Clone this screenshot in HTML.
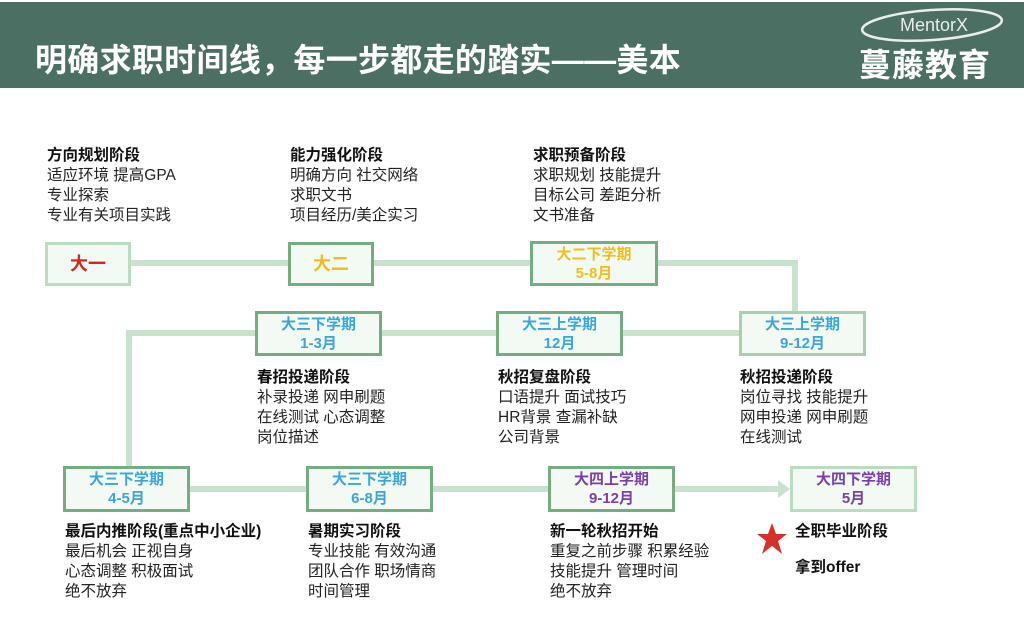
<!DOCTYPE html>
<html><head><meta charset="utf-8"><style>
body{margin:0;width:1024px;height:621px;background:#fff;position:relative;overflow:hidden;font-family:"Liberation Sans","Noto Sans CJK SC",sans-serif;}
.a{position:absolute;}
.hdr{left:0;top:2px;width:1024px;height:86px;background:#4b6f63;}
.title{left:35px;top:35px;font-size:32px;font-weight:bold;color:#fff;letter-spacing:0.3px;white-space:nowrap;}
.ln{position:absolute;background:#c8e2cc;}
.box{position:absolute;box-sizing:border-box;border:3px solid #74ad80;background:#f3f9f3;text-align:center;font-weight:bold;font-size:15px;line-height:19px;display:flex;flex-direction:column;justify-content:center;}
.t{position:absolute;font-size:15.5px;line-height:20px;color:#222;white-space:nowrap;}
.t b{color:#111;}
.blue{color:#3aa6dc}.pur{color:#7a3fb0}
</style></head><body>
<div class="a hdr"></div>
<div class="a title">明确求职时间线，每一步都走的踏实——美本</div>
<svg class="a" style="left:852px;top:5px" width="170" height="42"><ellipse cx="80" cy="20" rx="70" ry="15" fill="none" stroke="#e8eee9" stroke-width="2.5" transform="rotate(-4 80 20)"/><text x="82" y="26" text-anchor="middle" font-family="Liberation Sans" font-size="18" fill="#e8eee9">MentorX</text></svg>
<div class="a" style="left:859px;top:46px;font-size:32px;line-height:38px;color:#fff;font-weight:bold;letter-spacing:1px;white-space:nowrap">蔓藤教育</div>

<!-- lines -->
<div class="ln" style="left:130px;top:260px;width:668px;height:6px"></div>
<div class="ln" style="left:792px;top:262px;width:6px;height:52px"></div>
<div class="ln" style="left:126px;top:330px;width:620px;height:6px"></div>
<div class="ln" style="left:126px;top:330px;width:6px;height:140px"></div>
<div class="ln" style="left:190px;top:486px;width:592px;height:6px"></div>
<svg class="a" style="left:778px;top:480px" width="14" height="18"><polygon points="0,0 12,9 0,18" fill="#c8e2cc"/></svg>

<!-- row1 -->
<div class="box" style="left:45px;top:242px;width:86px;height:44px;color:#d42a1e;font-size:18px;border-color:#bcdcc0">大一</div>
<div class="box" style="left:288px;top:242px;width:86px;height:44px;color:#f0bf1e;font-size:18px">大二</div>
<div class="box" style="left:530px;top:241px;width:128px;height:45px;color:#f0bf1e">大二下学期<br>5-8月</div>
<!-- row2 -->
<div class="box blue" style="left:255px;top:311px;width:127px;height:45px">大三下学期<br>1-3月</div>
<div class="box blue" style="left:496px;top:311px;width:127px;height:45px">大三上学期<br>12月</div>
<div class="box blue" style="left:739px;top:311px;width:127px;height:45px;border-color:#a6d0ae">大三上学期<br>9-12月</div>
<!-- row3 -->
<div class="box blue" style="left:63px;top:466px;width:127px;height:46px">大三下学期<br>4-5月</div>
<div class="box blue" style="left:306px;top:466px;width:127px;height:46px">大三下学期<br>6-8月</div>
<div class="box pur" style="left:548px;top:466px;width:127px;height:46px">大四上学期<br>9-12月</div>
<div class="box pur" style="left:790px;top:466px;width:127px;height:46px;border-color:#bcdcc0">大四下学期<br>5月</div>

<!-- texts -->
<div class="t" style="left:47px;top:146px"><b>方向规划阶段</b><br>适应环境 提高GPA<br>专业探索<br>专业有关项目实践</div>
<div class="t" style="left:290px;top:146px"><b>能力强化阶段</b><br>明确方向 社交网络<br>求职文书<br>项目经历/美企实习</div>
<div class="t" style="left:533px;top:146px"><b>求职预备阶段</b><br>求职规划 技能提升<br>目标公司 差距分析<br>文书准备</div>

<div class="t" style="left:257px;top:368px"><b>春招投递阶段</b><br>补录投递 网申刷题<br>在线测试 心态调整<br>岗位描述</div>
<div class="t" style="left:498px;top:368px"><b>秋招复盘阶段</b><br>口语提升 面试技巧<br>HR背景 查漏补缺<br>公司背景</div>
<div class="t" style="left:740px;top:368px"><b>秋招投递阶段</b><br>岗位寻找 技能提升<br>网申投递 网申刷题<br>在线测试</div>

<div class="t" style="left:65px;top:522px"><b>最后内推阶段(重点中小企业)</b><br>最后机会 正视自身<br>心态调整 积极面试<br>绝不放弃</div>
<div class="t" style="left:308px;top:522px"><b>暑期实习阶段</b><br>专业技能 有效沟通<br>团队合作 职场情商<br>时间管理</div>
<div class="t" style="left:550px;top:522px"><b>新一轮秋招开始</b><br>重复之前步骤 积累经验<br>技能提升 管理时间<br>绝不放弃</div>
<svg class="a" style="left:756px;top:522px" width="32" height="34"><polygon points="16,1 20,12 31,12 22,19 26,32 16,24 6,32 10,19 1,12 12,12" fill="#d6302a"/></svg>
<div class="t" style="left:795px;top:522px"><b>全职毕业阶段</b></div>
<div class="t" style="left:795px;top:558px"><b>拿到offer</b></div>
</body></html>
